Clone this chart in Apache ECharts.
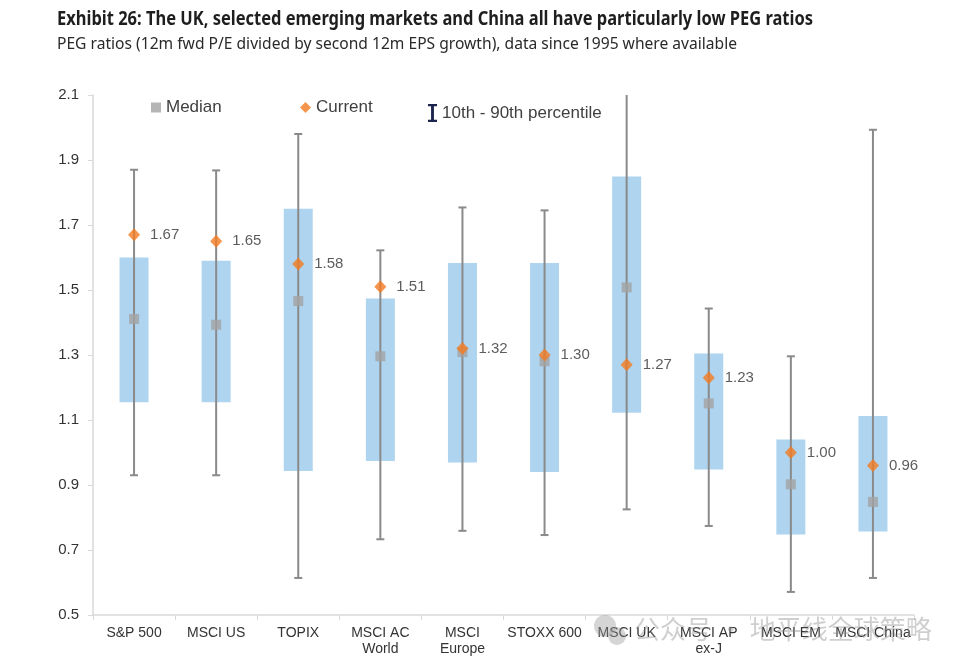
<!DOCTYPE html>
<html>
<head>
<meta charset="utf-8">
<script src="https://cdn.jsdelivr.net/npm/echarts@6/dist/echarts.min.js"></script>
<style>
html,body{margin:0;padding:0;background:#fff;}
#c{width:960px;height:669px;}
</style>
</head>
<body>
<div id="c"></div>
<script>
const categories = ['S&P 500','MSCI US','TOPIX','MSCI AC\nWorld','MSCI\nEurope','STOXX 600','MSCI UK','MSCI AP\nex-J','MSCI EM','MSCI China'];
const p10 =     [0.930, 0.930, 0.614, 0.733, 0.759, 0.746, 0.825, 0.774, 0.571, 0.614];
const p90 =     [1.870, 1.868, 1.980, 1.622, 1.754, 1.745, 2.250, 1.443, 1.296, 1.993];
const boxLow =  [1.155, 1.155, 0.943, 0.974, 0.969, 0.940, 1.122, 0.948, 0.748, 0.757];
const boxHigh = [1.600, 1.590, 1.750, 1.474, 1.583, 1.583, 1.849, 1.305, 1.040, 1.112];
const median =  [1.411, 1.393, 1.466, 1.296, 1.309, 1.281, 1.508, 1.151, 0.902, 0.848];
const current = [1.67, 1.65, 1.58, 1.51, 1.32, 1.30, 1.27, 1.23, 1.00, 0.96];
const yTicks = {min: 0.5, max: 2.1, interval: 0.2};
const titleText = 'Exhibit 26: The UK, selected emerging markets and China all have particularly low PEG ratios';
const subtitleText = 'PEG ratios (12m fwd P/E divided by second 12m EPS growth), data since 1995 where available';

const boxData = categories.map((c, i) => [i, boxLow[i], boxHigh[i]]);
const whiskerData = categories.map((c, i) => [i, p10[i], p90[i]]);

const mctx = document.createElement('canvas').getContext('2d');
function fitScale(text, font, targetW) { mctx.font = font; return targetW / mctx.measureText(text).width; }
const titleFont = "bold 19px 'Noto Sans', sans-serif";
const subFont = "16px 'Noto Sans', sans-serif";
const titleScale = fitScale(titleText, titleFont, 756);
const subScale = fitScale(subtitleText, subFont, 680);

const chart = echarts.init(document.getElementById('c'));
const lblFont = "'Liberation Sans', Arial, sans-serif";
const iPath = 'path://M0,0 L10,0 L10,2.5 L6.6,2.5 L6.6,17.5 L10,17.5 L10,20 L0,20 L0,17.5 L3.4,17.5 L3.4,2.5 L0,2.5 Z';

chart.setOption({
  animation: false,
  backgroundColor: '#fff',
  legend: [
    {data: [{name: 'Median', icon: 'rect'}], left: 151, top: 99, itemWidth: 10, itemHeight: 10, padding: 0,
     selectedMode: false, textStyle: {fontFamily: lblFont, fontSize: 17, color: '#404040'}},
    {data: [{name: 'Current', icon: 'diamond'}], left: 300, top: 99, itemWidth: 11, itemHeight: 11, padding: 0,
     selectedMode: false, textStyle: {fontFamily: lblFont, fontSize: 17, color: '#404040'}},
    {data: [{name: '10th - 90th percentile', icon: iPath, itemStyle: {color: '#1b2550'}}], left: 428, top: 104, itemWidth: 9, itemHeight: 18, padding: 0,
     selectedMode: false, textStyle: {fontFamily: lblFont, fontSize: 17, color: '#404040'}}
  ],
  grid: {left: 93, right: 46, top: 95, bottom: 54, containLabel: false},
  xAxis: {
    type: 'category', data: categories, boundaryGap: true,
    axisLine: {lineStyle: {color: '#d9d9d9', width: 1.5}},
    axisTick: {show: true, alignWithLabel: false, length: 5, lineStyle: {color: '#d9d9d9'}},
    axisLabel: {interval: 0, margin: 10, fontFamily: lblFont, fontSize: 14, color: '#333', lineHeight: 16}
  },
  yAxis: {
    type: 'value', min: yTicks.min, max: yTicks.max, interval: yTicks.interval,
    splitLine: {show: false},
    axisLine: {show: true, lineStyle: {color: '#d9d9d9', width: 1.5}},
    axisTick: {show: true, length: 5, lineStyle: {color: '#d9d9d9'}},
    axisLabel: {margin: 14, fontFamily: lblFont, fontSize: 15, color: '#333', formatter: v => v.toFixed(1)}
  },
  series: [
    {
      type: 'custom', name: 'box', data: boxData, encode: {x: 0, y: [1, 2]}, z: 1,
      renderItem: function (params, api) {
        const i = api.value(0);
        const lo = api.coord([i, api.value(1)]);
        const hi = api.coord([i, api.value(2)]);
        const w = 29;
        return {type: 'rect', shape: {x: lo[0] - w / 2, y: hi[1], width: w, height: lo[1] - hi[1]},
                style: {fill: '#aed4f0'}};
      }
    },
    {
      type: 'custom', name: '10th - 90th percentile', data: whiskerData, encode: {x: 0, y: [1, 2]}, z: 2,
      itemStyle: {color: '#1b2550'},
      renderItem: function (params, api) {
        const i = api.value(0);
        const lo = api.coord([i, api.value(1)]);
        const hi = api.coord([i, api.value(2)]);
        const top = params.coordSys.y;
        const clipped = hi[1] < top;
        const yTop = clipped ? top : hi[1];
        const x = lo[0];
        const st = {stroke: '#8a8a8a', lineWidth: 2};
        const children = [
          {type: 'line', shape: {x1: x, y1: yTop, x2: x, y2: lo[1]}, style: st},
          {type: 'line', shape: {x1: x - 4, y1: lo[1], x2: x + 4, y2: lo[1]}, style: st}
        ];
        if (!clipped) children.push({type: 'line', shape: {x1: x - 4, y1: yTop, x2: x + 4, y2: yTop}, style: st});
        return {type: 'group', children: children};
      }
    },
    {
      type: 'scatter', name: 'Median', data: median, symbol: 'rect', symbolSize: 10, z: 3,
      itemStyle: {color: '#a3a3a3'}
    },
    {
      type: 'scatter', name: 'Current', data: current, symbol: 'diamond', symbolSize: [12, 13], z: 4,
      itemStyle: {color: '#f47b20'},
      label: {show: true, position: 'right', distance: 10, fontFamily: lblFont, fontSize: 15, color: '#333',
              formatter: p => p.value.toFixed(2)}
    }
  ],
  graphic: [
    {type: 'text', x: 57, y: 10, scaleX: titleScale, z: 100,
     style: {text: titleText, font: titleFont, fill: '#1e1e1e'}},
    {type: 'text', x: 57, y: 36, scaleX: subScale, z: 100,
     style: {text: subtitleText, font: subFont, fill: '#2a2a2a'}},
    {type: 'circle', shape: {cx: 605, cy: 626, r: 11}, style: {fill: 'rgba(150,150,150,0.4)'}, z: 100},
    {type: 'circle', shape: {cx: 617, cy: 636, r: 9}, style: {fill: 'rgba(150,150,150,0.4)'}, z: 100},
    {type: 'text', left: 634, top: 616, z: 100,
     style: {text: '公众号 · 地平线全球策略', font: "26px 'Noto Sans CJK SC', sans-serif", fill: 'rgba(140,140,140,0.42)'}}
  ]
});
</script>
</body>
</html>
